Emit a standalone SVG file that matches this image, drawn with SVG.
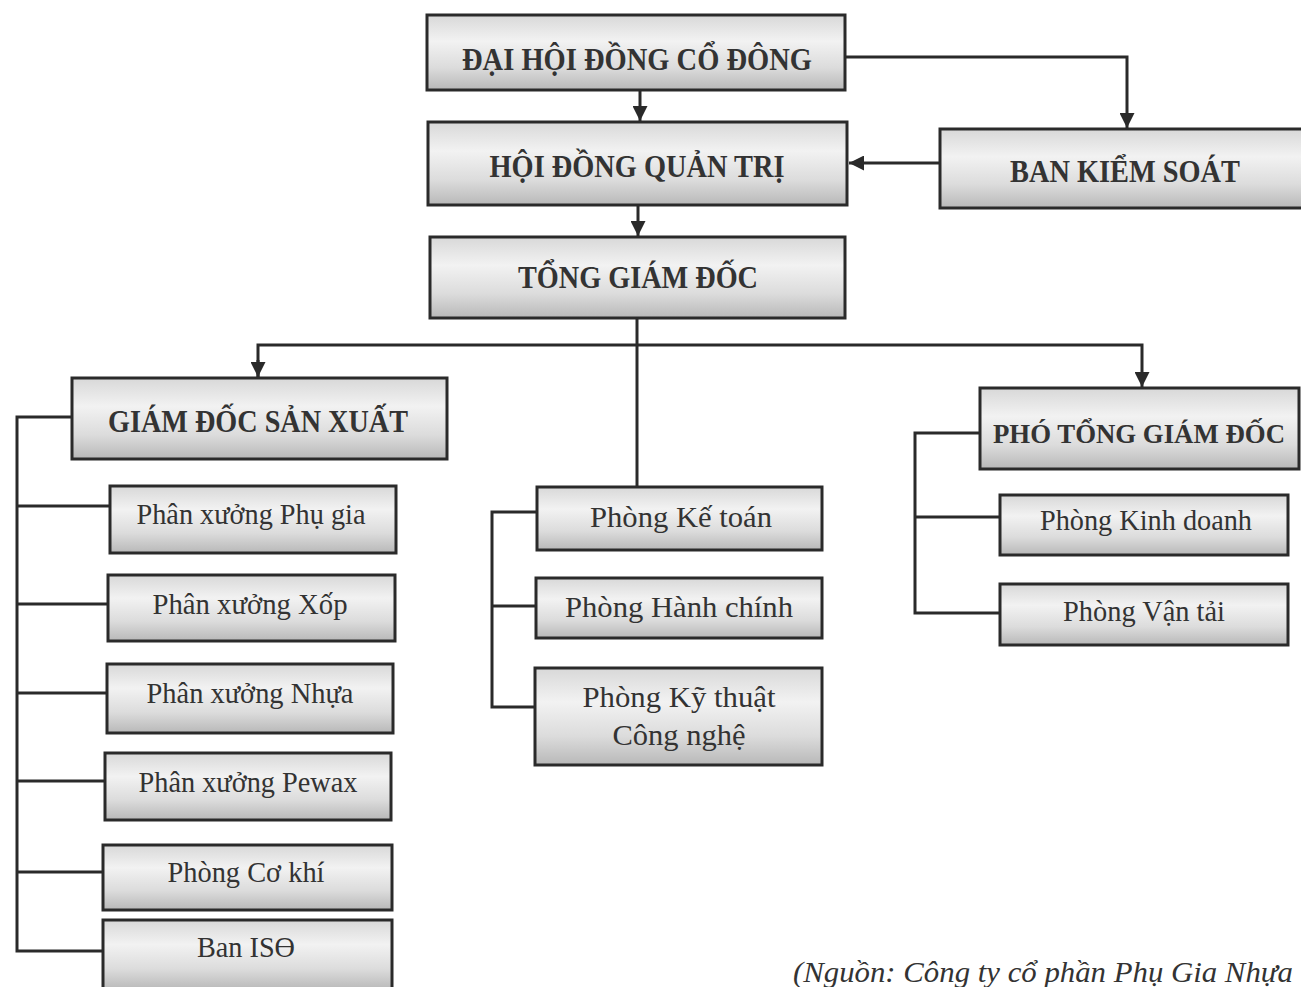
<svg xmlns="http://www.w3.org/2000/svg" width="1301" height="987" viewBox="0 0 1301 987">
<defs>
<linearGradient id="g" x1="0" y1="0" x2="0" y2="1">
<stop offset="0" stop-color="#d8d8d8"/>
<stop offset="0.35" stop-color="#f2f2f2"/>
<stop offset="0.7" stop-color="#dcdcdc"/>
<stop offset="1" stop-color="#b8b8b8"/>
</linearGradient>
<marker id="ah" viewBox="0 0 10 10" refX="10" refY="5" markerWidth="5" markerHeight="5" markerUnits="strokeWidth" orient="auto">
<path d="M0,0 L10,5 L0,10 Z" fill="#2a2a2a"/>
</marker>
<style>
.box{fill:url(#g);stroke:#2a2a2a;stroke-width:3}
.h{font-family:"Liberation Serif","DejaVu Serif",serif;font-weight:bold;font-size:32px;fill:#333;text-anchor:middle}
.t{font-family:"Liberation Serif","DejaVu Serif",serif;font-size:29px;fill:#333;text-anchor:middle}
.c{fill:none;stroke:#2a2a2a;stroke-width:3}
.src{font-family:"Liberation Serif","DejaVu Serif",serif;font-style:italic;font-size:30px;fill:#333}
</style>
</defs>
<rect width="1301" height="987" fill="#ffffff"/>
<g id="connectors">
<line class="c" x1="640" y1="90" x2="640" y2="121" marker-end="url(#ah)"/>
<polyline class="c" points="845,57 1127,57 1127,128" marker-end="url(#ah)"/>
<line class="c" x1="940" y1="163" x2="849" y2="163" marker-end="url(#ah)"/>
<line class="c" x1="638" y1="205" x2="638" y2="236" marker-end="url(#ah)"/>
<line class="c" x1="637" y1="318" x2="637" y2="487"/>
<polyline class="c" points="258,377 258,345 1142,345 1142,387" marker-end="url(#ah)"/>
<line class="c" x1="258" y1="360" x2="258" y2="377" marker-end="url(#ah)"/>
<polyline class="c" points="72,417 17,417 17,951 103,951"/>
<line class="c" x1="17" y1="506" x2="110" y2="506"/>
<line class="c" x1="17" y1="604" x2="108" y2="604"/>
<line class="c" x1="17" y1="693" x2="107" y2="693"/>
<line class="c" x1="17" y1="781" x2="105" y2="781"/>
<line class="c" x1="17" y1="872" x2="103" y2="872"/>
<polyline class="c" points="537,512 492,512 492,707 535,707"/>
<line class="c" x1="492" y1="606" x2="536" y2="606"/>
<polyline class="c" points="980,433 915,433 915,613 1000,613"/>
<line class="c" x1="915" y1="517" x2="1000" y2="517"/>
</g>
<g id="n-dhdcd"><rect class="box" x="427" y="15" width="418" height="75"/><text class="h" x="637" y="70" textLength="350" lengthAdjust="spacingAndGlyphs">ĐẠI HỘI ĐỒNG CỔ ĐÔNG</text></g>
<g id="n-hdqt"><rect class="box" x="428" y="122" width="419" height="83"/><text class="h" x="637" y="177" textLength="295" lengthAdjust="spacingAndGlyphs">HỘI ĐỒNG QUẢN TRỊ</text></g>
<g id="n-bks"><rect class="box" x="940" y="129" width="364" height="79"/><text class="h" x="1125" y="182" textLength="230" lengthAdjust="spacingAndGlyphs">BAN KIỂM SOÁT</text></g>
<g id="n-tgd"><rect class="box" x="430" y="237" width="415" height="81"/><text class="h" x="638" y="288" textLength="240" lengthAdjust="spacingAndGlyphs">TỔNG GIÁM ĐỐC</text></g>
<g id="n-gdsx"><rect class="box" x="72" y="378" width="375" height="81"/><text class="h" x="258" y="432" textLength="300" lengthAdjust="spacingAndGlyphs">GIÁM ĐỐC SẢN XUẤT</text></g>
<g id="n-ptgd"><rect class="box" x="980" y="388" width="319" height="81"/><text class="h" x="1139" y="443" style="font-size:27px" textLength="292" lengthAdjust="spacingAndGlyphs">PHÓ TỔNG GIÁM ĐỐC</text></g>
<g id="n-phugia"><rect class="box" x="110" y="486" width="286" height="67"/><text class="t" x="251" y="524" textLength="229" lengthAdjust="spacingAndGlyphs">Phân xưởng Phụ gia</text></g>
<g id="n-xop"><rect class="box" x="108" y="575" width="287" height="66"/><text class="t" x="250" y="614" textLength="195" lengthAdjust="spacingAndGlyphs">Phân xưởng Xốp</text></g>
<g id="n-nhua"><rect class="box" x="107" y="664" width="286" height="69"/><text class="t" x="250" y="703" textLength="207" lengthAdjust="spacingAndGlyphs">Phân xưởng Nhựa</text></g>
<g id="n-pewax"><rect class="box" x="105" y="753" width="286" height="67"/><text class="t" x="248" y="792" textLength="219" lengthAdjust="spacingAndGlyphs">Phân xưởng Pewax</text></g>
<g id="n-cokhi"><rect class="box" x="103" y="845" width="289" height="65"/><text class="t" x="246" y="882" textLength="157" lengthAdjust="spacingAndGlyphs">Phòng Cơ khí</text></g>
<g id="n-iso"><rect class="box" x="103" y="920" width="289" height="70"/><text class="t" x="246" y="957" textLength="98" lengthAdjust="spacingAndGlyphs">Ban ISƟ</text></g>
<g id="n-ketoan"><rect class="box" x="537" y="487" width="285" height="63"/><text class="t" x="681" y="527" textLength="182" lengthAdjust="spacingAndGlyphs">Phòng Kế toán</text></g>
<g id="n-hanhchinh"><rect class="box" x="536" y="578" width="286" height="60"/><text class="t" x="679" y="617" textLength="228" lengthAdjust="spacingAndGlyphs">Phòng Hành chính</text></g>
<g id="n-kythuat"><rect class="box" x="535" y="668" width="287" height="97"/><text class="t" x="679" y="707" textLength="193" lengthAdjust="spacingAndGlyphs">Phòng Kỹ thuật</text><text class="t" x="679" y="745" textLength="133" lengthAdjust="spacingAndGlyphs">Công nghệ</text></g>
<g id="n-kinhdoanh"><rect class="box" x="1000" y="495" width="288" height="60"/><text class="t" x="1146" y="530" textLength="212" lengthAdjust="spacingAndGlyphs">Phòng Kinh doanh</text></g>
<g id="n-vantai"><rect class="box" x="1000" y="584" width="288" height="61"/><text class="t" x="1144" y="621" textLength="162" lengthAdjust="spacingAndGlyphs">Phòng Vận tải</text></g>
<text class="src" x="793" y="982" textLength="500" lengthAdjust="spacingAndGlyphs">(Nguồn: Công ty cổ phần Phụ Gia Nhựa</text>
</svg>
